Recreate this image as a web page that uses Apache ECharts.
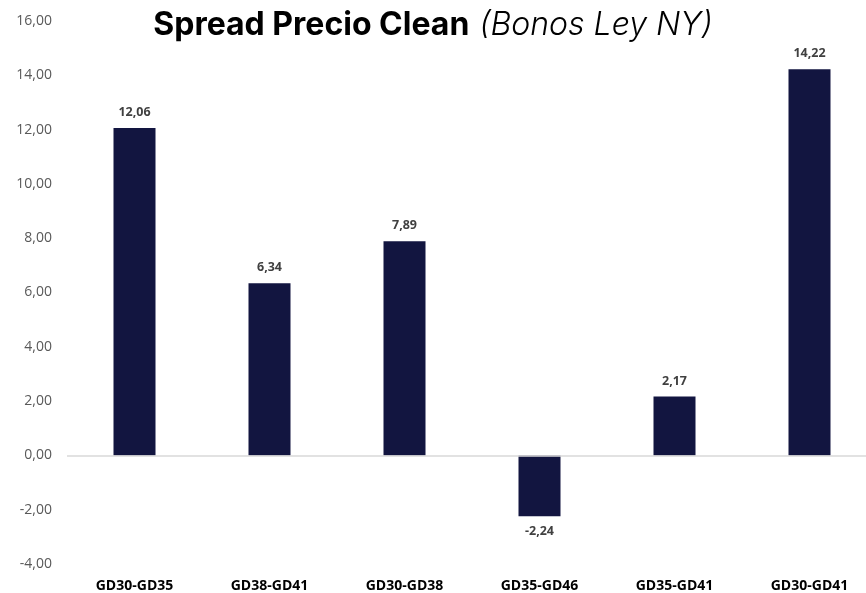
<!DOCTYPE html>
<html><head><meta charset="utf-8">
<script src="https://cdn.jsdelivr.net/npm/echarts@6/dist/echarts.min.js"></script>
<style>html,body{margin:0;padding:0;background:#fff}#c{width:866px;height:593px}</style>
</head><body><div id="c"></div>
<script>
const categories = ["GD30-GD35","GD38-GD41","GD30-GD38","GD35-GD46","GD35-GD41","GD30-GD41"];
const spreadValues = [12.06, 6.34, 7.89, -2.24, 2.17, 14.22];
const yMin = -4, yMax = 16, yStep = 2;
const titleMain = "Spread Precio Clean";
const titleSub = "(Bonos Ley NY)";

const fmt = v => v.toFixed(2).replace('.', ',');
const chart = echarts.init(document.getElementById('c'), null, {renderer:'canvas'});
chart.setOption({
  animation:false,
  backgroundColor:'#fff',
  title:{
    text:'{a|'+titleMain+'} {b|'+titleSub+'}',
    left:'center', top:4,
    textStyle:{rich:{
      a:{fontFamily:'Inter', fontWeight:'bold', fontSize:32, color:'#000'},
      b:{fontFamily:'Inter', fontStyle:'italic', fontWeight:300, fontSize:32, color:'#000', padding:[0,0,0,5]}
    }}
  },
  grid:{left:67, top:21, width:810, bottom:29, containLabel:false, outerBoundsMode:'none'},
  xAxis:{
    type:'category', data:categories,
    axisLine:{show:false, onZero:false}, axisTick:{show:false},
    axisLabel:{margin:15, fontFamily:'Open Sans', fontWeight:'bold', fontSize:14, color:'#000'}
  },
  yAxis:{
    type:'value', min:yMin, max:yMax, interval:yStep,
    axisLine:{show:false}, axisTick:{show:false}, splitLine:{show:false},
    axisLabel:{margin:15, fontFamily:'Open Sans', fontSize:14, color:'#595959', formatter:fmt}
  },
  series:[{
    type:'bar', data:spreadValues.map(v=>({value:v, label:{position: v<0?'bottom':'top'}})),
    barWidth:42, itemStyle:{color:'#121540'},
    label:{show:true, distance:9, fontFamily:'Open Sans', fontWeight:'bold', fontSize:12.5, color:'#404040', formatter:p=>fmt(p.value)},
    markLine:{silent:true, symbol:'none', label:{show:false}, lineStyle:{color:'#d9d9d9', width:1.5, type:'solid'}, data:[{yAxis:0}]},
    z:3
  }]
});
</script></body></html>
